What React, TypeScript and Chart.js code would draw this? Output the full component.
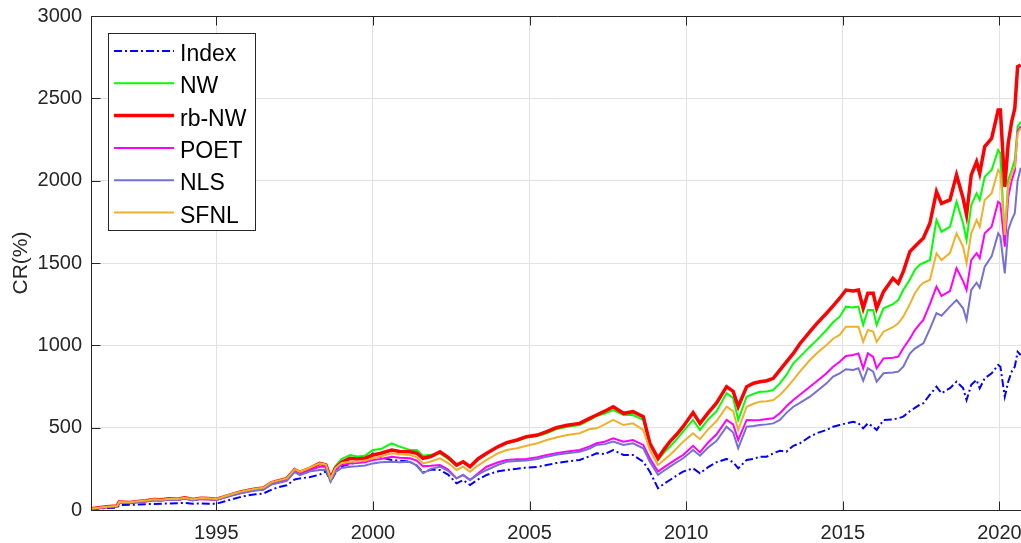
import React, { useEffect, useRef } from "react";
import { Chart, registerables } from "chart.js";

Chart.register(...registerables);

const dates = [
  1991.0, 1991.5, 1991.83, 1991.9, 1992.25, 1992.5, 1992.75, 1993.0, 1993.25, 1993.5,
  1993.75, 1994.0, 1994.25, 1994.5, 1994.75, 1995.0, 1995.25, 1995.5, 1995.75, 1996.0,
  1996.25, 1996.5, 1996.75, 1997.0, 1997.25, 1997.5, 1997.67, 1998.0, 1998.3, 1998.5,
  1998.65, 1998.8, 1999.0, 1999.27, 1999.5, 1999.75, 2000.0, 2000.25, 2000.6, 2000.85,
  2001.18, 2001.4, 2001.6, 2001.85, 2002.14, 2002.4, 2002.67, 2002.88, 2003.1, 2003.35,
  2003.63, 2004.0, 2004.27, 2004.6, 2004.9, 2005.25, 2005.55, 2005.85, 2006.2, 2006.6,
  2006.9, 2007.14, 2007.4, 2007.67, 2008.0, 2008.3, 2008.63, 2008.84, 2009.1, 2009.3,
  2009.48, 2009.7, 2009.9, 2010.22, 2010.44, 2010.7, 2010.97, 2011.29, 2011.5, 2011.66,
  2011.93, 2012.15, 2012.35, 2012.57, 2012.78, 2012.99, 2013.2, 2013.42, 2013.63, 2013.95,
  2014.16, 2014.48, 2014.69, 2014.9, 2015.1, 2015.33, 2015.5, 2015.65, 2015.8, 2015.97,
  2016.08, 2016.3, 2016.6, 2016.77, 2016.93, 2017.14, 2017.3, 2017.46, 2017.57, 2017.78,
  2017.99, 2018.15, 2018.42, 2018.63, 2018.84, 2018.95, 2019.1, 2019.27, 2019.37, 2019.53,
  2019.75, 2019.96, 2020.03, 2020.17, 2020.28, 2020.39, 2020.49, 2020.58, 2020.68,
];

const indexCR = [
  5, 12, 15, 30, 32, 33, 35, 37, 38, 40,
  41, 43, 38, 40, 38, 38, 52, 65, 78, 88,
  95, 100, 122, 140, 150, 185, 192, 200, 215, 235,
  172, 225, 265, 280, 290, 300, 344, 320, 304, 300,
  293, 270, 228, 245, 243, 215, 162, 182, 152, 185,
  213, 235, 243, 250, 258, 262, 273, 285, 295, 304,
  325, 344, 340, 364, 334, 334, 293, 233, 132, 160,
  182, 210, 233, 253, 223, 260, 290, 310, 290, 253,
  304, 310, 324, 324, 344, 360, 354, 390, 405, 445,
  466, 486, 506, 516, 526, 536, 526, 496, 526, 505,
  486, 547, 550, 557, 567, 600, 620, 640, 648, 700,
  749, 709, 740, 779, 740, 668, 760, 790, 739, 800,
  830, 881, 870, 688, 779, 840, 870, 961, 941,
];

const nwCR = [
  8, 20, 25, 48, 46, 52, 56, 64, 62, 68,
  66, 74, 64, 72, 70, 66, 80, 95, 108, 118,
  127, 133, 165, 178, 190, 245, 228, 255, 280, 278,
  195, 265, 310, 334, 325, 330, 364, 370, 405, 385,
  364, 364, 330, 335, 344, 310, 270, 290, 262, 305,
  340, 385, 405, 420, 440, 450, 466, 490, 505, 516,
  545, 571, 585, 607, 577, 577, 547, 405, 304, 350,
  384, 430, 476, 547, 486, 550, 600, 709, 680, 547,
  688, 705, 718, 720, 729, 769, 820, 891, 930, 992,
  1030, 1093, 1140, 1174, 1235, 1230, 1235, 1124, 1215, 1215,
  1124, 1225, 1250, 1275, 1336, 1400, 1458, 1490, 1500, 1518,
  1761, 1690, 1720, 1872, 1741, 1640, 1852, 1923, 1883, 2024,
  2065, 2186, 2166, 1650, 2004, 2065, 2126, 2328, 2358,
];

const rbNwCR = [
  8, 20, 25, 48, 46, 52, 56, 64, 62, 68,
  66, 74, 64, 72, 70, 66, 80, 95, 108, 118,
  127, 133, 165, 178, 190, 245, 228, 255, 283, 273,
  192, 255, 290, 314, 310, 315, 334, 345, 364, 355,
  354, 345, 314, 325, 354, 320, 273, 293, 263, 310,
  344, 385, 409, 425, 445, 455, 476, 500, 515, 526,
  555, 577, 600, 627, 587, 597, 567, 405, 314, 370,
  415, 460, 506, 592, 526, 590, 650, 749, 720, 627,
  749, 770, 779, 785, 800, 850, 900, 951, 1010, 1083,
  1130, 1195, 1240, 1286, 1336, 1330, 1336, 1225, 1316, 1316,
  1225, 1326, 1407, 1377, 1447, 1569, 1600, 1630, 1650, 1741,
  1934, 1862, 1883, 2035, 1893, 1792, 2035, 2115, 2045, 2207,
  2257, 2429, 2429, 1963, 2227, 2358, 2439, 2692, 2702,
];

const poetCR = [
  8, 18, 23, 45, 44, 49, 53, 60, 58, 63,
  61, 69, 60, 67, 65, 62, 75, 89, 101, 111,
  120, 125, 156, 168, 180, 235, 218, 242, 263, 262,
  182, 245, 275, 283, 285, 290, 304, 310, 324, 318,
  314, 300, 265, 268, 273, 245, 192, 213, 182, 222,
  263, 290, 304, 308, 310, 320, 334, 345, 355, 364,
  385, 405, 415, 435, 415, 425, 395, 314, 233, 260,
  283, 310, 334, 390, 350, 410, 460, 547, 520, 425,
  547, 545, 547, 552, 557, 587, 630, 668, 700, 749,
  780, 830, 870, 900, 935, 941, 951, 860, 951, 930,
  861, 921, 925, 931, 982, 1040, 1093, 1130, 1154, 1250,
  1356, 1300, 1330, 1468, 1390, 1336, 1518, 1560, 1530, 1680,
  1720, 1872, 1860, 1599, 1900, 2000, 2060, 2300, 2330,
];

const nlsCR = [
  8, 18, 23, 45, 44, 49, 53, 60, 58, 63,
  61, 69, 60, 67, 65, 62, 75, 88, 100, 110,
  118, 123, 154, 166, 177, 230, 212, 235, 243, 245,
  172, 230, 255, 263, 265, 270, 283, 290, 293, 290,
  293, 270, 223, 250, 263, 238, 192, 213, 182, 215,
  243, 275, 293, 298, 300, 310, 324, 335, 345, 354,
  372, 395, 400, 415, 395, 405, 375, 293, 213, 240,
  263, 290, 314, 364, 330, 380, 420, 506, 470, 375,
  506, 510, 516, 520, 526, 547, 590, 627, 650, 688,
  720, 769, 810, 830, 855, 850, 861, 785, 861, 840,
  779, 830, 835, 840, 870, 950, 980, 1000, 1012, 1100,
  1195, 1180, 1235, 1275, 1225, 1154, 1336, 1380, 1350, 1478,
  1540, 1680, 1660, 1437, 1700, 1761, 1802, 2000, 2079,
];

const sfnlCR = [
  8, 20, 25, 48, 47, 53, 57, 65, 63, 69,
  67, 75, 65, 73, 71, 67, 82, 97, 110, 120,
  129, 135, 168, 180, 192, 248, 232, 258, 283, 275,
  190, 255, 285, 293, 295, 300, 314, 325, 344, 338,
  334, 320, 283, 295, 314, 285, 243, 263, 233, 270,
  304, 345, 364, 375, 390, 405, 425, 440, 455, 466,
  490, 496, 520, 547, 516, 526, 486, 364, 273, 305,
  334, 375, 415, 466, 430, 490, 540, 627, 600, 486,
  627, 645, 658, 660, 668, 698, 740, 790, 840, 911,
  950, 1002, 1040, 1063, 1113, 1113, 1113, 1022, 1093, 1083,
  1022, 1083, 1110, 1134, 1174, 1250, 1316, 1360, 1380, 1397,
  1559, 1518, 1560, 1680, 1599, 1498, 1680, 1761, 1720, 1883,
  1923, 2065, 2045, 1670, 1963, 2045, 2085, 2288, 2318,
];

const seriesLabels = ["Index", "NW", "rb-NW", "POET", "NLS", "SFNL"];
const seriesValues = [indexCR, nwCR, rbNwCR, poetCR, nlsCR, sfnlCR];
const seriesColors = ["#0000FF", "#00FF00", "#FF0000", "#FF00FF", "#7670D4", "#EDB130"];
const seriesWidths = [2, 2, 3.5, 2, 2, 2];
const seriesDashes: number[][] = [[8, 3, 2, 3], [], [], [], [], []];

const xTickValues = [1995, 2000, 2005, 2010, 2015, 2020];
const yTickValues = [0, 500, 1000, 1500, 2000, 2500, 3000];
const yAxisTitle = "CR(%)";

const FONT = '"Liberation Sans", Arial, Helvetica, sans-serif';
const AXIS_COLOR = "#262626";

export default function App() {
  const ref = useRef<HTMLCanvasElement | null>(null);

  useEffect(() => {
    const canvas = ref.current;
    if (!canvas) return;

    const datasets = seriesValues.map((vals, i) => ({
      label: seriesLabels[i],
      data: dates.map((d, j) => ({ x: d, y: vals[j] })),
      borderColor: seriesColors[i],
      backgroundColor: seriesColors[i],
      borderWidth: seriesWidths[i],
      borderDash: seriesDashes[i],
      pointRadius: 0,
      pointHoverRadius: 0,
      fill: false,
      tension: 0,
      order: seriesLabels.length - 1 - i,
    }));

    const framePlugin = {
      id: "matlabFrame",
      afterDatasetsDraw(chart: any) {
        const { ctx, chartArea } = chart;
        const { left, right, top, bottom } = chartArea;
        const xs = chart.scales.x;
        const ys = chart.scales.y;
        ctx.save();
        ctx.strokeStyle = AXIS_COLOR;
        ctx.lineWidth = 1;
        ctx.setLineDash([]);
        const L = Math.round(left) + 0.5;
        const B = Math.round(bottom) + 0.5;
        const T = Math.round(top) + 0.5;
        ctx.beginPath();
        ctx.moveTo(L, T);
        ctx.lineTo(L, B);
        ctx.lineTo(right + 2, B);
        ctx.moveTo(L, T);
        ctx.lineTo(right + 2, T);
        yTickValues.forEach((v) => {
          const y = Math.round(ys.getPixelForValue(v)) + 0.5;
          ctx.moveTo(L, y);
          ctx.lineTo(L + 9, y);
        });
        xTickValues.forEach((v) => {
          const x = Math.round(xs.getPixelForValue(v)) + 0.5;
          ctx.moveTo(x, B);
          ctx.lineTo(x, B - 9);
          ctx.moveTo(x, T);
          ctx.lineTo(x, T + 9);
        });
        ctx.stroke();
        ctx.restore();
      },
    };

    const legendPlugin = {
      id: "boxLegend",
      afterDraw(chart: any) {
        const ctx = chart.ctx;
        ctx.save();
        const bx = 108.5, by = 33.5, bw = 147, bh = 197;
        ctx.fillStyle = "#ffffff";
        ctx.fillRect(bx, by, bw, bh);
        ctx.strokeStyle = AXIS_COLOR;
        ctx.lineWidth = 1;
        ctx.setLineDash([]);
        ctx.strokeRect(bx, by, bw, bh);
        chart.data.datasets.forEach((ds: any, i: number) => {
          const y = 51 + i * 32.3;
          ctx.beginPath();
          ctx.setLineDash(ds.borderDash || []);
          ctx.strokeStyle = ds.borderColor;
          ctx.lineWidth = ds.borderWidth;
          ctx.moveTo(114, y);
          ctx.lineTo(174, y);
          ctx.stroke();
          ctx.setLineDash([]);
          ctx.fillStyle = "#000000";
          ctx.font = `23px ${FONT}`;
          ctx.textAlign = "left";
          ctx.textBaseline = "alphabetic";
          ctx.fillText(ds.label, 180, y + 10);
        });
        ctx.restore();
      },
    };

    const chart = new Chart(canvas, {
      type: "line",
      data: { datasets: datasets as any },
      options: {
        animation: false,
        responsive: false,
        maintainAspectRatio: false,
        devicePixelRatio: 1,
        layout: { padding: { top: 16, right: 38, bottom: 0, left: 0 } },
        plugins: {
          legend: { display: false },
          tooltip: { enabled: false },
          title: { display: false },
        },
        scales: {
          x: {
            type: "linear",
            min: 1991,
            max: 2020.72,
            afterBuildTicks: (s: any) => {
              s.ticks = xTickValues.map((v) => ({ value: v }));
            },
            afterFit: (s: any) => {
              s.height = 33;
              s.paddingLeft = 0;
              s.paddingRight = 0;
            },
            grid: { color: "#E2E2E2", lineWidth: 1, drawTicks: false },
            border: { display: false },
            ticks: {
              padding: 11,
              color: AXIS_COLOR,
              font: { family: FONT, size: 20 },
              maxRotation: 0,
              autoSkip: false,
              callback: (v: any) => String(v),
            },
          },
          y: {
            type: "linear",
            min: 0,
            max: 3000,
            afterBuildTicks: (s: any) => {
              s.ticks = yTickValues.map((v) => ({ value: v }));
            },
            afterFit: (s: any) => {
              s.width = 91;
              s.paddingTop = 0;
              s.paddingBottom = 0;
            },
            grid: { color: "#E2E2E2", lineWidth: 1, drawTicks: false },
            border: { display: false },
            ticks: {
              padding: 9,
              color: AXIS_COLOR,
              font: { family: FONT, size: 20 },
              autoSkip: false,
              callback: (v: any) => String(v),
            },
            title: {
              display: true,
              text: yAxisTitle,
              color: AXIS_COLOR,
              font: { family: FONT, size: 21 },
              padding: { top: 9, bottom: 0 },
            },
          },
        },
      },
      plugins: [framePlugin, legendPlugin],
    });

    return () => chart.destroy();
  }, []);

  return (
    <div
      style={{
        position: "fixed",
        left: 0,
        top: 0,
        width: 1021,
        height: 543,
        overflow: "hidden",
        background: "#ffffff",
      }}
    >
      <canvas ref={ref} width={1060} height={543} style={{ display: "block" }} />
    </div>
  );
}
